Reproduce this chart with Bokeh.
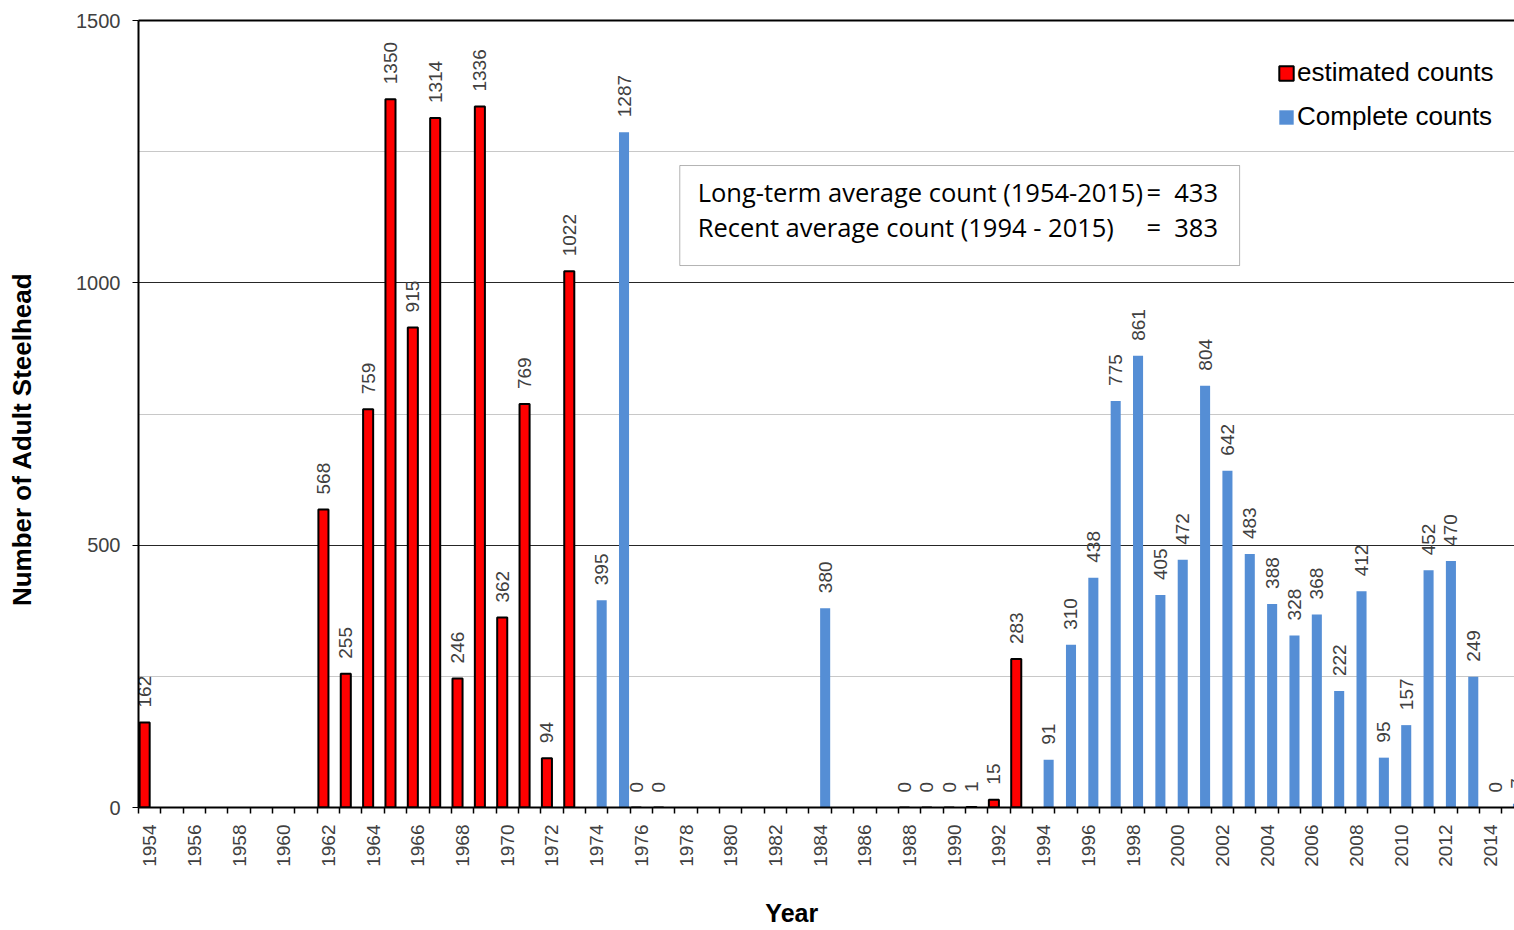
import math
from bokeh.plotting import figure
from bokeh.models import (FixedTicker, LinearAxis, Legend, LegendItem, BoxAnnotation,
                          Label, ColumnDataSource, Range1d)
from bokeh.transform import dodge
from bokeh.embed import file_html
from bokeh.resources import INLINE
from bokeh.core.properties import value

# ---------------- data ----------------
est_years = [1954, 1962, 1963, 1964, 1965, 1966, 1967, 1968, 1969, 1970, 1971, 1972, 1973,
             1976, 1977, 1988, 1989, 1990, 1991, 1992, 1993]
est_counts = [162, 568, 255, 759, 1350, 915, 1314, 246, 1336, 362, 769, 94, 1022,
              0, 0, 0, 0, 0, 1, 15, 283]

comp_years = [1974, 1975, 1984, 1994, 1995, 1996, 1997, 1998, 1999, 2000, 2001, 2002, 2003,
              2004, 2005, 2006, 2007, 2008, 2009, 2010, 2011, 2012, 2013, 2014, 2015]
comp_counts = [395, 1287, 380, 91, 310, 438, 775, 861, 405, 472, 804, 642, 483,
               388, 328, 368, 222, 412, 95, 157, 452, 470, 249, 0, 7]

x_tick_years = list(range(1954, 2015, 2))
category_edges = [1953.5 + k for k in range(0, 63)]
y_ticks = [0, 500, 1000, 1500]
y_minor_ticks = [250, 750, 1250]

series_names = ["estimated counts", "Complete counts"]
note_lines = ["Long-term average count (1954-2015)", "Recent average count (1994 - 2015)"]
note_values = ["=\u00a0\u00a0433", "=\u00a0\u00a0383"]
x_title = "Year"
y_title = "Number of Adult  Steelhead"

est_src = ColumnDataSource(dict(year=est_years, count=est_counts,
                                label=[str(v) for v in est_counts]))
comp_src = ColumnDataSource(dict(year=comp_years, count=comp_counts,
                                 label=[str(v) for v in comp_counts]))

# ---------------- figure ----------------
p = figure(width=1514, height=930, output_backend="svg", toolbar_location=None,
           x_range=Range1d(1953.5, 2015.07), y_range=Range1d(0, 1500),
           min_border_left=138, min_border_right=0, min_border_top=20, min_border_bottom=123)
p.outline_line_color = None
p.background_fill_color = "white"
p.border_fill_color = "white"

RED = "#FF0000"
BLUE = "#558ED5"
BW = 0.45
OFF = 0.225

r_est = p.vbar(x=dodge("year", -OFF, range=p.x_range), top="count", width=BW, bottom=0,
               source=est_src, fill_color=RED, line_color="black", line_width=2)
r_comp = p.vbar(x=dodge("year", OFF, range=p.x_range), top="count", width=BW, bottom=0,
                source=comp_src, fill_color=BLUE, line_color=None)

lbl_kw = dict(angle=math.pi / 2, text_align="left", text_baseline="middle", y_offset=-15,
              text_font=value("Liberation Sans"), text_font_size="19px", text_color="#404040")
p.text(x=dodge("year", -OFF, range=p.x_range), y="count", text="label", source=est_src, **lbl_kw)
p.text(x=dodge("year", OFF, range=p.x_range), y="count", text="label", source=comp_src, **lbl_kw)

# ---------------- axes ----------------
xa = p.xaxis[0]
xa.ticker = FixedTicker(ticks=x_tick_years, minor_ticks=category_edges)
xa.major_tick_out = 0
xa.major_tick_in = 0
xa.minor_tick_out = 6
xa.minor_tick_in = 0
xa.minor_tick_line_color = "black"
xa.minor_tick_line_width = 1.5
xa.axis_line_width = 2
xa.axis_line_color = "black"
xa.major_label_orientation = math.pi / 2
xa.major_label_standoff = 11
xa.major_label_text_font = "Liberation Sans"
xa.major_label_text_font_size = "19px"
xa.major_label_text_color = "#404040"
xa.axis_label = x_title + "\u00a0" * 10
xa.axis_label_text_font = "Liberation Sans"
xa.axis_label_text_font_style = "bold"
xa.axis_label_text_font_size = "25px"
xa.axis_label_text_color = "black"
xa.axis_label_standoff = 29

ya = p.yaxis[0]
ya.ticker = FixedTicker(ticks=y_ticks, minor_ticks=y_minor_ticks)
ya.major_tick_out = 6
ya.major_tick_in = 0
ya.minor_tick_line_color = None
ya.axis_line_width = 2
ya.axis_line_color = "black"
ya.major_label_standoff = 12
ya.major_label_text_font = "Liberation Sans"
ya.major_label_text_font_size = "20px"
ya.major_label_text_color = "#404040"
ya.axis_label = y_title + "\u00a0" * 6
ya.axis_label_text_font = "Liberation Sans"
ya.axis_label_text_font_style = "bold"
ya.axis_label_text_font_size = "26px"
ya.axis_label_text_color = "black"
ya.axis_label_standoff = 36

top_axis = LinearAxis(ticker=FixedTicker(ticks=[]), axis_line_width=2, axis_line_color="black",
                      major_tick_out=0, major_tick_in=0, minor_tick_out=0, minor_tick_in=0,
                      major_label_standoff=0)
p.add_layout(top_axis, "above")

p.xgrid.grid_line_color = None
p.ygrid.ticker = FixedTicker(ticks=[500, 1000], minor_ticks=y_minor_ticks)
p.ygrid.grid_line_color = "#262626"
p.ygrid.grid_line_width = 1
p.ygrid.minor_grid_line_color = "#C8C8C8"
p.ygrid.minor_grid_line_width = 1

# ---------------- note box ----------------
p.add_layout(BoxAnnotation(left=1977.72, right=2002.77, bottom=1033, top=1223.6,
                           fill_color="white", fill_alpha=1.0,
                           line_color="black", line_width=1))
for yy, t, v in zip([1172.2, 1105.5], note_lines, note_values):
    p.add_layout(Label(x=1978.52, y=yy, text=t, text_baseline="middle",
                       text_font="Open Sans", text_font_size="25.5px", text_color="black"))
    p.add_layout(Label(x=1998.6, y=yy, text=v, text_baseline="middle",
                       text_font="Open Sans", text_font_size="25.5px", text_color="black"))

# ---------------- legend ----------------
legend = Legend(items=[LegendItem(label=series_names[0], renderers=[r_est]),
                       LegendItem(label=series_names[1], renderers=[r_comp])],
                location=(1139, 675), padding=0, margin=0, spacing=13,
                glyph_width=18, glyph_height=18, label_height=18, label_standoff=2,
                label_text_font="Liberation Sans", label_text_font_size="26px",
                label_text_color="black", border_line_color=None,
                background_fill_alpha=0)
p.add_layout(legend)

open("out.html", "w").write(file_html(p, INLINE))
